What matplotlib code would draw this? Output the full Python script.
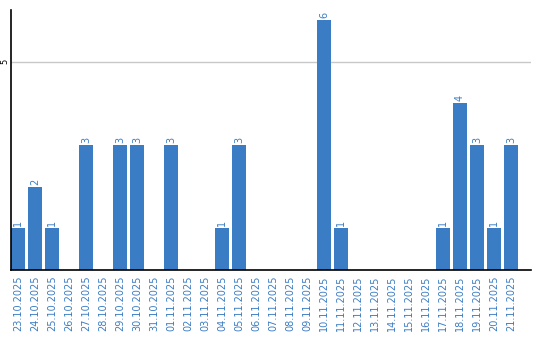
import matplotlib
matplotlib.use("Agg")
import matplotlib.pyplot as plt

dates = ["23.10.2025", "24.10.2025", "25.10.2025", "26.10.2025", "27.10.2025",
         "28.10.2025", "29.10.2025", "30.10.2025", "31.10.2025", "01.11.2025",
         "02.11.2025", "03.11.2025", "04.11.2025", "05.11.2025", "06.11.2025",
         "07.11.2025", "08.11.2025", "09.11.2025", "10.11.2025", "11.11.2025",
         "12.11.2025", "13.11.2025", "14.11.2025", "15.11.2025", "16.11.2025",
         "17.11.2025", "18.11.2025", "19.11.2025", "20.11.2025", "21.11.2025"]
values = [1, 2, 1, 0, 3, 0, 3, 3, 0, 3, 0, 0, 1, 3, 0, 0, 0, 0, 6, 1,
          0, 0, 0, 0, 0, 1, 4, 3, 1, 3]
yticks = [5]

blue = "#3b7dc4"
fig = plt.figure(figsize=(5.4, 3.4), dpi=100)
ax = fig.add_axes([10.5/540, 70/340, 520.5/540, 260/340])
x = list(range(len(dates)))
ax.bar(x, values, width=0.82, color=blue, zorder=2)
for xi, v in zip(x, values):
    if v > 0:
        ax.text(xi, v + 0.05, str(v), rotation=90, ha="center", va="bottom",
                fontsize=7, color=blue)
ax.set_xlim(-0.44, 30.18)
ax.set_ylim(0, 6.24)
ax.set_yticks(yticks)
ax.set_yticklabels([str(t) for t in yticks], rotation=90, va="center", fontsize=6)
ax.yaxis.grid(True, color="#c8c8c8", linewidth=1, zorder=0)
ax.set_xticks(x)
ax.set_xticklabels(dates, rotation=90, fontsize=7, color=blue)
ax.tick_params(axis="x", length=0, pad=4)
ax.tick_params(axis="y", length=0, pad=1)
for s in ["top", "right"]:
    ax.spines[s].set_visible(False)
for s in ["left", "bottom"]:
    ax.spines[s].set_color("black")
    ax.spines[s].set_linewidth(1.2)
ax.spines["left"].set_zorder(3)
fig.savefig("out.png", dpi=100)
